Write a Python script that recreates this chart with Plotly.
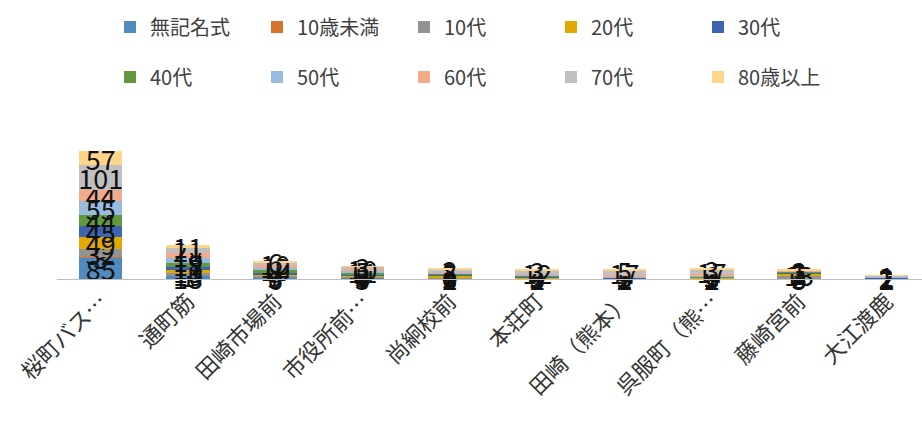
import plotly.graph_objects as go

categories = ["桜町バス…", "通町筋", "田崎市場前", "市役所前…", "尚絅校前",
              "本荘町", "田崎（熊本）", "呉服町（熊…", "藤崎宮前", "大江渡鹿"]

series_names = ["無記名式", "10歳未満", "10代", "20代", "30代",
                "40代", "50代", "60代", "70代", "80歳以上"]

v_mukimei = [85, 13, 6, 5, 3, 2, 1, 2, 3, 1]
v_u10 = [3, 1, 0, 0, 0, 0, 0, 0, 0, 0]
v_10s = [32, 10, 5, 4, 2, 1, 1, 1, 8, 1]
v_20s = [49, 13, 9, 5, 8, 5, 2, 2, 13, 2]
v_30s = [45, 11, 7, 4, 6, 3, 2, 3, 3, 2]
v_40s = [44, 18, 8, 5, 4, 3, 2, 3, 2, 2]
v_50s = [55, 19, 10, 11, 5, 4, 3, 5, 2, 2]
v_60s = [44, 18, 12, 5, 3, 4, 5, 6, 2, 2]
v_70s = [101, 21, 10, 10, 8, 12, 17, 17, 3, 2]
v_80p = [57, 11, 6, 3, 2, 3, 5, 3, 1, 1]

values = [v_mukimei, v_u10, v_10s, v_20s, v_30s, v_40s, v_50s, v_60s, v_70s, v_80p]

colors = ["#4f8bbf", "#d6722b", "#939393", "#e2a900", "#3d64ad",
          "#609a3c", "#98bbe0", "#f1aa8a", "#c0c0c0", "#ffd58a"]

FONT = "Noto Sans CJK JP"

fig = go.Figure()
for i, (name, vals, col) in enumerate(zip(series_names, values, colors)):
    fig.add_trace(go.Bar(
        x=categories, y=vals, name=name,
        marker=dict(color=col, line=dict(width=0)),
        text=[str(v) if v else "" for v in vals],
        textposition="inside", insidetextanchor="middle",
        textangle=0, constraintext="none", cliponaxis=False,
        textfont=dict(family=FONT, size=27, color="#111111"),
        legend="legend" if i < 5 else "legend2",
    ))

legend_common = dict(
    orientation="h", xref="container", yref="container",
    xanchor="left", yanchor="middle", x=110 / 922,
    entrywidth=102, entrywidthmode="pixels",
    font=dict(family=FONT, size=20, color="#404040"),
    bgcolor="rgba(0,0,0,0)", traceorder="normal",
)

fig.update_layout(
    width=922, height=428,
    barmode="stack", bargap=0.5,
    margin=dict(l=57, r=0, t=110, b=149, autoexpand=False),
    paper_bgcolor="white", plot_bgcolor="white",
    uniformtext=dict(minsize=27, mode="show"),
    legend=dict(legend_common, y=1 - 27 / 428),
    legend2=dict(legend_common, y=1 - 77 / 428),
    xaxis=dict(
        range=[-0.5, 9.408], showline=True, linecolor="#bfbfbf", linewidth=1,
        tickangle=-45, ticks="", automargin=False,
        tickfont=dict(family=FONT, size=22, color="#333333"),
    ),
    yaxis=dict(range=[0, 680], visible=False, showgrid=False),
    showlegend=True,
)

fig.write_html("out.html", config={"displayModeBar": False},
               post_script="document.body.style.margin='0';")
